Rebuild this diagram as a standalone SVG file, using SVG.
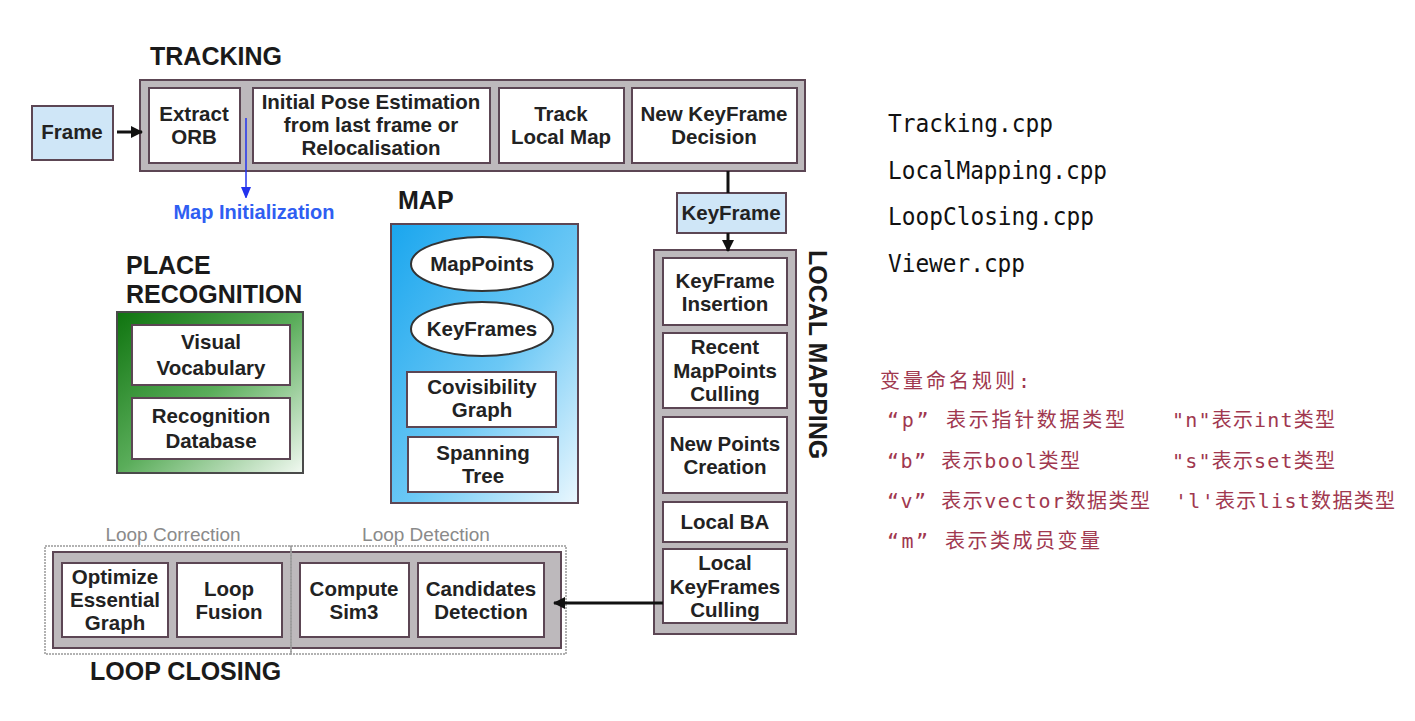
<svg xmlns="http://www.w3.org/2000/svg" width="1415" height="721" viewBox="0 0 1415 721">
<defs>
<linearGradient id="gMap" x1="0" y1="0" x2="1" y2="1">
<stop offset="0" stop-color="#1aa6ee"/>
<stop offset="0.55" stop-color="#6cc8f5"/>
<stop offset="1" stop-color="#eaf7fe"/>
</linearGradient>
<linearGradient id="gPlace" x1="0" y1="0" x2="1" y2="1">
<stop offset="0" stop-color="#0f740f"/>
<stop offset="0.5" stop-color="#5aad5a"/>
<stop offset="1" stop-color="#f2f9f2"/>
</linearGradient>
<marker id="ahBlack" markerWidth="14" markerHeight="14" refX="11" refY="6" orient="auto" markerUnits="userSpaceOnUse">
<path d="M0,0 L12,6 L0,12 Z" fill="#111"/>
</marker>
<marker id="ahBlue" markerWidth="10" markerHeight="14" refX="11" refY="5" orient="auto" markerUnits="userSpaceOnUse">
<path d="M0,0 L12,5 L0,10 Z" fill="#2233ee"/>
</marker>
<style>
.cont{fill:#bdb9bc;stroke:#5c4654;stroke-width:2}
.box{fill:#fff;stroke:#5c4654;stroke-width:2}
.blue{fill:#cfe6f7;stroke:#5c4654;stroke-width:2}
.lbl{font-family:"Liberation Sans",Arial,sans-serif;font-weight:bold;font-size:20.5px;fill:#222;text-anchor:middle}
.title{font-family:"Liberation Sans",Arial,sans-serif;font-weight:bold;font-size:25px;fill:#1a1a1a}
.sub{font-family:"Liberation Sans",Arial,sans-serif;font-size:19px;fill:#8a8a8a;text-anchor:middle}
.dot{fill:none;stroke:#999;stroke-width:1.5;stroke-dasharray:2 1}
.cpp{font-family:"DejaVu Sans Mono","Liberation Mono",monospace;font-size:24px;fill:#111}
.cn{font-family:"DejaVu Sans Mono","Noto Sans CJK SC",monospace;font-size:20px;fill:#a0384f}
</style>
</defs>
<rect width="1415" height="721" fill="#ffffff"/>

<!-- TRACKING -->
<g id="tracking">
<text class="title" x="150" y="65">TRACKING</text>
<rect class="cont" x="140" y="80" width="665" height="91"/>
</g>
<g id="frame">
<rect class="blue" x="32" y="106" width="81" height="54"/>
<text class="lbl" x="72" y="139">Frame</text>
</g>
<g id="extract-orb">
<rect class="box" x="149" y="88" width="91" height="75"/>
<text class="lbl" x="194" y="121">Extract</text>
<text class="lbl" x="194" y="144">ORB</text>
</g>
<g id="initial-pose">
<rect class="box" x="253" y="88" width="237" height="75"/>
<text class="lbl" x="371" y="109">Initial Pose Estimation</text>
<text class="lbl" x="371" y="132">from last frame or</text>
<text class="lbl" x="371" y="155">Relocalisation</text>
</g>
<g id="track-local-map">
<rect class="box" x="499" y="88" width="125" height="75"/>
<text class="lbl" x="561" y="121">Track</text>
<text class="lbl" x="561" y="144">Local Map</text>
</g>
<g id="new-keyframe-decision">
<rect class="box" x="632" y="88" width="165" height="75"/>
<text class="lbl" x="714" y="121">New KeyFrame</text>
<text class="lbl" x="714" y="144">Decision</text>
</g>
<g id="map-initialization">
<text x="254" y="219" font-family="Liberation Sans, Arial, sans-serif" font-weight="bold" font-size="20" fill="#2f5ef2" text-anchor="middle">Map Initialization</text>
</g>
<g id="keyframe">
<rect class="blue" x="677" y="193" width="109" height="40"/>
<text class="lbl" x="731" y="220">KeyFrame</text>
</g>

<!-- MAP -->
<g id="map">
<text class="title" x="398" y="209">MAP</text>
<rect x="391" y="224" width="187" height="279" fill="url(#gMap)" stroke="#5c4654" stroke-width="2"/>
</g>
<g id="mappoints">
<ellipse cx="482" cy="264" rx="71" ry="27" fill="#fff" stroke="#333" stroke-width="2"/>
<text class="lbl" x="482" y="271">MapPoints</text>
</g>
<g id="keyframes">
<ellipse cx="482" cy="329" rx="71" ry="27" fill="#fff" stroke="#333" stroke-width="2"/>
<text class="lbl" x="482" y="336">KeyFrames</text>
</g>
<g id="covisibility-graph">
<rect class="box" x="407" y="372" width="149" height="55"/>
<text class="lbl" x="482" y="394">Covisibility</text>
<text class="lbl" x="482" y="417">Graph</text>
</g>
<g id="spanning-tree">
<rect class="box" x="408" y="437" width="150" height="55"/>
<text class="lbl" x="483" y="460">Spanning</text>
<text class="lbl" x="483" y="483">Tree</text>
</g>

<!-- PLACE RECOGNITION -->
<g id="place-recognition">
<text class="title" x="126" y="274">PLACE</text>
<text class="title" x="126" y="303">RECOGNITION</text>
<rect x="117" y="312" width="186" height="161" fill="url(#gPlace)" stroke="#4a4a4a" stroke-width="2"/>
</g>
<g id="visual-vocabulary">
<rect class="box" x="132" y="325" width="158" height="60"/>
<text class="lbl" x="211" y="349">Visual</text>
<text class="lbl" x="211" y="375">Vocabulary</text>
</g>
<g id="recognition-database">
<rect class="box" x="132" y="398" width="158" height="61"/>
<text class="lbl" x="211" y="423">Recognition</text>
<text class="lbl" x="211" y="448">Database</text>
</g>

<!-- LOCAL MAPPING -->
<g id="local-mapping">
<rect class="cont" x="654" y="250" width="142" height="384"/>
<text class="title" transform="translate(809,250) rotate(90)" x="0" y="0">LOCAL MAPPING</text>
</g>
<g id="keyframe-insertion">
<rect class="box" x="663" y="258" width="124" height="67"/>
<text class="lbl" x="725" y="288">KeyFrame</text>
<text class="lbl" x="725" y="311">Insertion</text>
</g>
<g id="recent-mappoints-culling">
<rect class="box" x="663" y="333" width="124" height="75"/>
<text class="lbl" x="725" y="354">Recent</text>
<text class="lbl" x="725" y="378">MapPoints</text>
<text class="lbl" x="725" y="401">Culling</text>
</g>
<g id="new-points-creation">
<rect class="box" x="663" y="417" width="124" height="76"/>
<text class="lbl" x="725" y="451">New Points</text>
<text class="lbl" x="725" y="474">Creation</text>
</g>
<g id="local-ba">
<rect class="box" x="663" y="502" width="124" height="40"/>
<text class="lbl" x="725" y="529">Local BA</text>
</g>
<g id="local-keyframes-culling">
<rect class="box" x="663" y="549" width="124" height="74"/>
<text class="lbl" x="725" y="570">Local</text>
<text class="lbl" x="725" y="594">KeyFrames</text>
<text class="lbl" x="725" y="617">Culling</text>
</g>

<!-- LOOP CLOSING -->
<g id="loop-closing">
<rect class="cont" x="53" y="552" width="508" height="96"/>
<rect class="dot" x="45" y="546" width="246" height="108"/>
<rect class="dot" x="291" y="546" width="275" height="108"/>
<text class="sub" x="173" y="541">Loop Correction</text>
<text class="sub" x="426" y="541">Loop Detection</text>
<text class="title" x="90" y="680">LOOP CLOSING</text>
</g>
<g id="optimize-essential-graph">
<rect class="box" x="62" y="563" width="106" height="74"/>
<text class="lbl" x="115" y="584">Optimize</text>
<text class="lbl" x="115" y="607">Essential</text>
<text class="lbl" x="115" y="630">Graph</text>
</g>
<g id="loop-fusion">
<rect class="box" x="177" y="563" width="105" height="74"/>
<text class="lbl" x="229" y="596">Loop</text>
<text class="lbl" x="229" y="619">Fusion</text>
</g>
<g id="compute-sim3">
<rect class="box" x="300" y="563" width="109" height="74"/>
<text class="lbl" x="354" y="596">Compute</text>
<text class="lbl" x="354" y="619">Sim3</text>
</g>
<g id="candidates-detection">
<rect class="box" x="418" y="563" width="126" height="74"/>
<text class="lbl" x="481" y="596">Candidates</text>
<text class="lbl" x="481" y="619">Detection</text>
</g>

<!-- CONNECTORS -->
<g id="connectors" fill="none">
<line x1="117" y1="132" x2="142" y2="132" stroke="#111" stroke-width="3" marker-end="url(#ahBlack)"/>
<line x1="246" y1="118" x2="246" y2="198" stroke="#2233ee" stroke-width="1.5" marker-end="url(#ahBlue)"/>
<line x1="728" y1="171" x2="728" y2="193" stroke="#111" stroke-width="3"/>
<line x1="728" y1="233" x2="728" y2="251" stroke="#111" stroke-width="3" marker-end="url(#ahBlack)"/>
<line x1="663" y1="603" x2="554" y2="603" stroke="#111" stroke-width="3" marker-end="url(#ahBlack)"/>
</g>

<!-- Right-side notes -->
<g id="files">
<text class="cpp" x="888" y="132" textLength="165" lengthAdjust="spacingAndGlyphs">Tracking.cpp</text>
<text class="cpp" x="888" y="179" textLength="219" lengthAdjust="spacingAndGlyphs">LocalMapping.cpp</text>
<text class="cpp" x="888" y="225" textLength="206" lengthAdjust="spacingAndGlyphs">LoopClosing.cpp</text>
<text class="cpp" x="888" y="272" textLength="137" lengthAdjust="spacingAndGlyphs">Viewer.cpp</text>
</g>
<g id="naming-rules">
<text class="cn" x="880" y="388" textLength="150" lengthAdjust="spacing">变量命名规则:</text>
<text class="cn" x="887" y="427" textLength="238" lengthAdjust="spacing">“p” 表示指针数据类型</text>
<text class="cn" x="1172" y="427" textLength="163" lengthAdjust="spacing">"n"表示int类型</text>
<text class="cn" x="887" y="468" textLength="193" lengthAdjust="spacing">“b” 表示bool类型</text>
<text class="cn" x="1172" y="468" textLength="163" lengthAdjust="spacing">"s"表示set类型</text>
<text class="cn" x="887" y="508" textLength="263" lengthAdjust="spacing">“v” 表示vector数据类型</text>
<text class="cn" x="1175" y="508" textLength="220" lengthAdjust="spacing">'l'表示list数据类型</text>
<text class="cn" x="887" y="548" textLength="213" lengthAdjust="spacing">“m” 表示类成员变量</text>
</g>
</svg>
